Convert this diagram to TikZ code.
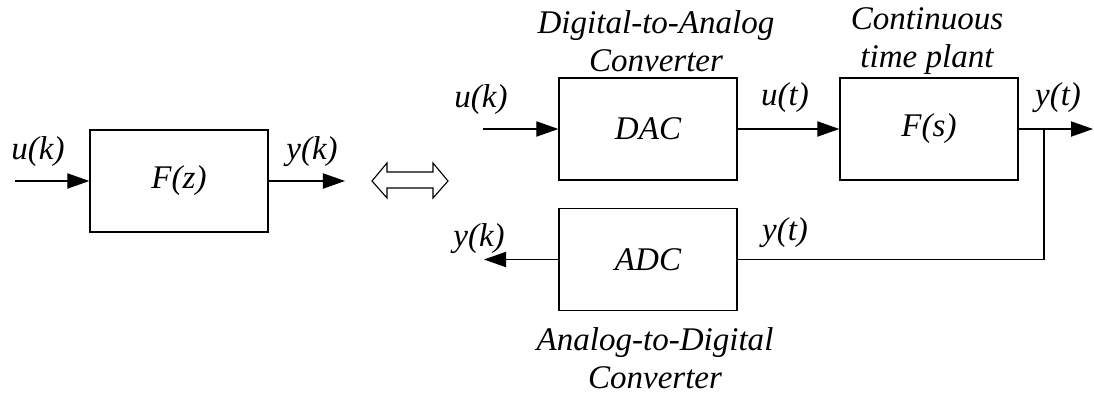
\documentclass[tikz,border=0pt]{standalone}
\usepackage{fontspec}
\setmainfont{Liberation Serif}
\usetikzlibrary{arrows.meta}

\tikzset{
  txt/.style={font=\itshape\fontsize{23.5}{27}\selectfont},
  block/.style={txt, draw, line width=0.9pt, minimum width=4.45cm, minimum height=2.55cm},
  sig/.style={txt, inner sep=0pt},
  caption/.style={txt, inner sep=0pt, align=center},
  wire/.style={line width=0.9pt},
  arrowwire/.style={wire, -{Triangle[length=5.5mm,width=3.8mm]}},
}

\begin{document}
\begin{tikzpicture}[x=0.025cm, y=-0.025cm]

% Canvas (pixel units of the original sheet)
\useasboundingbox (0,0) rectangle (1094,394);

% Parameters
\def\ytop{129}      % level of the upper (forward) path
\def\ybot{259.5}    % level of the feedback path
\def\xbranch{1044}  % branch point of y(t)

% Discrete equivalent
\node[block] (fz) at (179,181) {F(z)};
\coordinate (ukin) at (15,181);
\coordinate (ykout) at (345,181);
\draw[arrowwire] (ukin) -- (fz.west);
\draw[arrowwire] (fz.east) -- (ykout);
\node[sig] (ukl) at (38,152) {u(k)};
\node[sig] (ykl) at (312,152) {y(k)};

% Equivalence sign (hollow double arrow)
\draw[line width=0.8pt, line join=miter] (372,181) -- (387,163) -- (387,172) -- (433,172)
  -- (433,163) -- (448,181) -- (433,198) -- (433,188) -- (387,188) -- (387,198) -- cycle;

% Sampled-data loop
\node[block] (dac) at (648,\ytop) {DAC};
\node[block] (plant) at (929,\ytop) {F(s)};
\node[block] (adc) at (648,\ybot) {ADC};

\coordinate (uin) at (483,\ytop);
\coordinate (branch) at (\xbranch,\ytop);
\coordinate (yout) at (1093,\ytop);
\coordinate (ykback) at (484,\ybot);

\draw[arrowwire] (uin) -- (dac.west);
\draw[arrowwire] (dac.east) -- (plant.west);
\draw[arrowwire] (plant.east) -- (yout);
\draw[wire] (branch) |- (adc.east);
\draw[arrowwire] (adc.west) -- (ykback);

% Signal labels
\node[sig] (uk) at (481,100) {u(k)};
\node[sig] (ut) at (785,98) {u(t)};
\node[sig] (yt) at (1058,98) {y(t)};
\node[sig] (ytb) at (785,233) {y(t)};
\node[sig] (ykb) at (479,239) {y(k)};

% Block captions
\node[caption] (dacl) at (656,41) {Digital-to-Analog\\Converter};
\node[caption] (plantl) at (927,41) {Continuous\\time plant};
\node[caption] (adcl) at (655,358) {Analog-to-Digital\\Converter};

\end{tikzpicture}
\end{document}
